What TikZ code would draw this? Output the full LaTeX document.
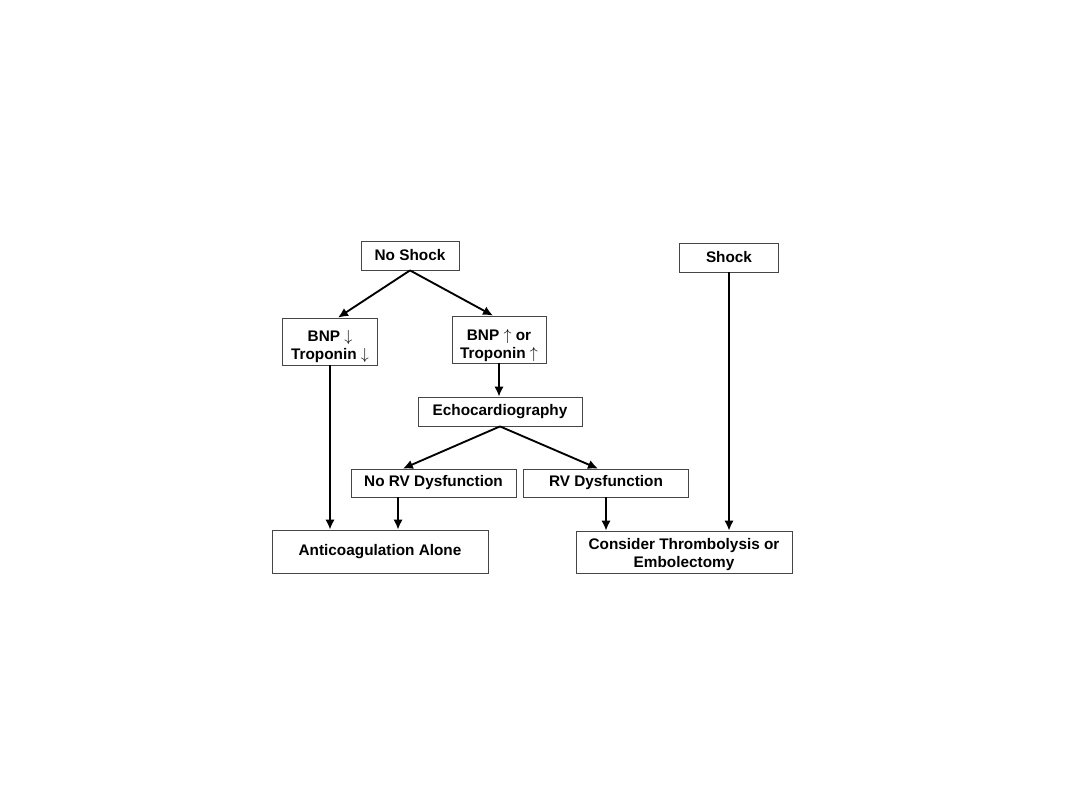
\documentclass[tikz,border=0pt]{standalone}
\usepackage{fontspec}
\setmainfont{Liberation Sans}
\usetikzlibrary{arrows.meta}

\newcommand{\lowered}[2]{\raisebox{-#1}[\height][\depth]{#2}}

\tikzset{
  box/.style={draw={rgb,255:red,70;green,70;blue,70}, line width=0.6pt, align=center, inner sep=0pt,
    font=\bfseries\fontsize{11.5}{13.5}\selectfont},
  flow/.style={-{Latex[length=7.5pt,width=7pt]}, line width=1.4pt}
}

\begin{document}
\begin{tikzpicture}[x=0.75pt,y=0.75pt,yscale=-1,xscale=1]
  \useasboundingbox (0,0) rectangle (1080,810);

  % Text Node
  \node [box, minimum width=73.5pt, minimum height=21.75pt] (noshock) at (410,255.5) {No Shock};
  % Text Node
  \node [box, minimum width=74.25pt, minimum height=21.75pt] (shock) at (729,257.5) {Shock};
  % Text Node
  \node [box, minimum width=71.25pt, minimum height=35.25pt] (bnpdown) at (330,341.5) {\lowered{3.4pt}{BNP $\downarrow$}\\\lowered{3.4pt}{Troponin $\downarrow$}};
  % Text Node
  \node [box, minimum width=70.5pt, minimum height=35.25pt] (bnpup) at (499,339.5) {\lowered{4.5pt}{BNP $\uparrow$ or}\\\lowered{4.5pt}{Troponin $\uparrow$}};
  % Text Node
  \node [box, minimum width=123pt, minimum height=21.75pt] (echo) at (500,411.5) {Echocardiography};
  % Text Node
  \node [box, minimum width=123.75pt, minimum height=21pt] (norv) at (433.5,483) {No RV Dysfunction};
  % Text Node
  \node [box, minimum width=123.75pt, minimum height=21pt] (rv) at (606,483) {RV Dysfunction};
  % Text Node
  \node [box, minimum width=162pt, minimum height=32.25pt] (anticoag) at (380,551.5) {Anticoagulation Alone};
  % Text Node
  \node [box, minimum width=162pt, minimum height=31.5pt] (consider) at (684,552) {\lowered{1.8pt}{Consider Thrombolysis or}\\\lowered{1.8pt}{Embolectomy}};

  %Straight Lines
  \draw [flow] (noshock.south) -- ([xshift=6pt]bnpdown.north);
  \draw [flow] (noshock.south) -- ([xshift=-4.5pt]bnpup.north);
  \draw [flow] (bnpdown.south) -- (bnpdown.south |- anticoag.north);
  \draw [flow] (bnpup.south) -- (bnpup.south |- echo.north);
  \draw [flow] (echo.south) -- ([xshift=-23pt]norv.north);
  \draw [flow] (echo.south) -- ([xshift=-6pt]rv.north);
  \draw [flow] ([xshift=-26.6pt]norv.south) -- ([xshift=-26.6pt]norv.south |- anticoag.north);
  \draw [flow] (rv.south) -- (rv.south |- consider.north);
  \draw [flow] (shock.south) -- (shock.south |- consider.north);

\end{tikzpicture}
\end{document}
